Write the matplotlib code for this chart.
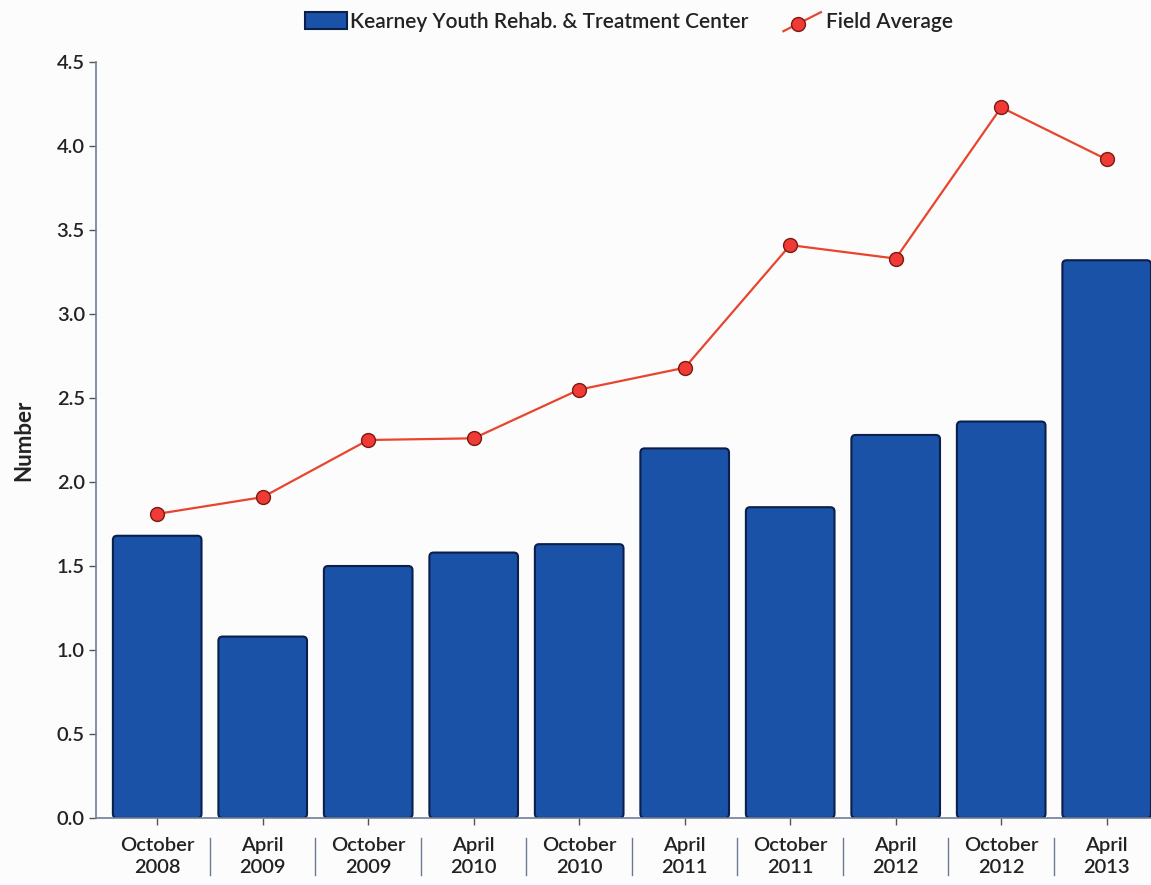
import matplotlib
matplotlib.use("Agg")
import matplotlib.pyplot as plt
from matplotlib.lines import Line2D
from matplotlib.patches import Patch, FancyBboxPatch
from matplotlib.legend_handler import HandlerBase
import numpy as np

plt.rcParams['font.family'] = ['Lato', 'DejaVu Sans']

# Survey periods
categories = ["October\n2008", "April\n2009", "October\n2009", "April\n2010", "October\n2010",
              "April\n2011", "October\n2011", "April\n2012", "October\n2012", "April\n2013"]

# Facility values and field average
facility = [1.68, 1.08, 1.50, 1.58, 1.63, 2.20, 1.85, 2.28, 2.36, 3.32]
field_avg = [1.81, 1.91, 2.25, 2.26, 2.55, 2.68, 3.41, 3.33, 4.23, 3.92]

yticks = [0.0, 0.5, 1.0, 1.5, 2.0, 2.5, 3.0, 3.5, 4.0, 4.5]

bar_color = "#1a52a8"
bar_edge = "#0b1f4a"
line_color = "#e8452e"
marker_face = "#ef3a35"
marker_edge = "#7a1a12"
text_color = "#222222"
bg = "#fdfcfd"


class DiagonalLineHandler(HandlerBase):
    """Legend key: a short rising line with a marker in the middle."""

    def create_artists(self, legend, orig_handle, xdescent, ydescent, width, height,
                       fontsize, trans):
        x0, x1 = -xdescent + width * 0.05, -xdescent + width * 0.95
        y0, y1 = -ydescent - height * 0.1, -ydescent + height * 1.0
        line = Line2D([x0, x1], [y0, y1], color=line_color, linewidth=1.6, transform=trans)
        mk = Line2D([x0 + (x1 - x0) * 0.4], [y0 + (y1 - y0) * 0.4], marker="o",
                    markersize=10, markerfacecolor=marker_face,
                    markeredgecolor=marker_edge, linestyle="none", transform=trans)
        return [line, mk]


fig = plt.figure(figsize=(11.51, 8.85), dpi=100, facecolor=bg)
ax = fig.add_axes([96 / 1151, 67 / 885, 1 - 96 / 1151, (818 - 62) / 885])
ax.set_facecolor(bg)

ax.set_xlim(-0.58, 9.42)
ax.set_ylim(0, 4.5)

x = np.arange(len(categories))
bars = ax.bar(x, facility, width=0.84, color=bar_color, edgecolor=bar_edge, linewidth=1.5,
              zorder=2)

# Give the bars slightly rounded corners
aspect = (4.5 / 756) / (10.0 / 1055)
for b in bars:
    bx, by = b.get_x(), b.get_y()
    bw, bh = b.get_width(), b.get_height()
    rounded = FancyBboxPatch((bx, by), bw, bh,
                             boxstyle="round,pad=0,rounding_size=0.04",
                             mutation_aspect=aspect,
                             facecolor=bar_color, edgecolor=bar_edge, linewidth=1.5,
                             zorder=2)
    b.set_visible(False)
    ax.add_patch(rounded)

line, = ax.plot(x, field_avg, color=line_color, linewidth=1.6, marker="o", markersize=10,
                markerfacecolor=marker_face, markeredgecolor=marker_edge,
                markeredgewidth=1.0, zorder=3)

ax.set_yticks(yticks)
ax.set_yticklabels([f"{v:.1f}" for v in yticks])
ax.set_xticks(x)
ax.set_xticklabels(categories, linespacing=1.3)

for side in ("top", "right"):
    ax.spines[side].set_visible(False)
for side in ("left", "bottom"):
    ax.spines[side].set_color("#6f7f99")
    ax.spines[side].set_linewidth(1.2)

ax.tick_params(axis="y", length=5, width=1.0, color="#555555", labelsize=14.5,
               labelcolor=text_color, pad=3)
ax.tick_params(axis="x", length=5, width=1.0, color="#555555", labelsize=14.5,
               labelcolor=text_color, pad=9)
for lbl in ax.get_xticklabels() + ax.get_yticklabels():
    lbl.set_fontweight("semibold")

# Thin separators between category labels
for b in x[:-1] + 0.5:
    ax.plot([b, b], [-0.12, -0.34], color="#6a7a90", linewidth=1.0,
            transform=ax.transData, clip_on=False)

ax.set_ylabel("Number", fontsize=16, fontweight="bold", color=text_color, labelpad=16)

handles = [
    Patch(facecolor=bar_color, edgecolor=bar_edge, linewidth=1.5,
          label="Kearney Youth Rehab. & Treatment Center"),
    line,
]
leg = fig.legend(handles=handles, labels=["Kearney Youth Rehab. & Treatment Center",
                                          "Field Average"],
                 loc="center", bbox_to_anchor=(629 / 1151, 1 - 22 / 885),
                 ncol=2, frameon=False, fontsize=15, handlelength=2.0, handleheight=0.9,
                 handletextpad=0.15, columnspacing=1.6,
                 handler_map={line: DiagonalLineHandler()})
for t in leg.get_texts():
    t.set_color(text_color)
    t.set_fontweight("semibold")

fig.savefig("out.png", dpi=100, facecolor=bg)
